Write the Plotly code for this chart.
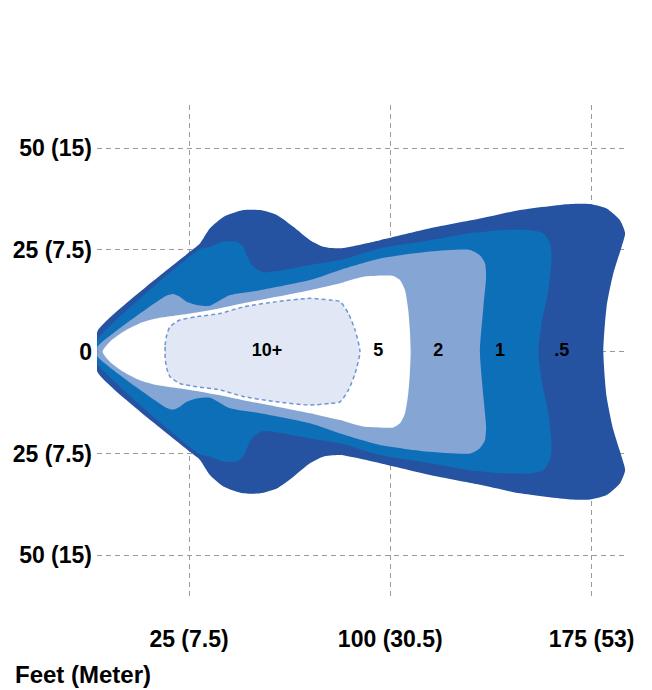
import plotly.graph_objects as go

# ---- data (feet) : upper half outlines of each lux zone, mirrored about y=0 ----
zone_names = [".5", "1", "2", "5", "10+"]

x_05 = [-9.1, -9.1, 25.4, 29.1, 32.8, 37.8, 45.2, 51.5, 57.7, 63.9, 70.1, 75.0, 81.3, 96.2,
        114.8, 133.4, 148.3, 167.0, 174.4, 180.6, 185.6, 187.5, 186.2, 183.1, 180.6, 179.4]
y_05 = [0, 5.0, 24.6, 26.6, 30.3, 33.1, 34.8, 34.8, 33.6, 30.7, 27.4, 25.8, 25.4, 27.4,
        30.3, 32.7, 34.8, 36.3, 36.3, 35.2, 32.3, 29.1, 25.8, 19.2, 11.0, 0]

x_1 = [-9.1, -9.1, 29.1, 32.8, 37.8, 42.8, 45.2, 47.1, 49.0, 52.7, 57.7, 70.1, 81.3, 96.2,
       114.8, 129.7, 142.1, 152.1, 157.0, 159.5, 160.1, 158.9, 156.4, 155.2]
y_1 = [0, 2.9, 25.2, 25.8, 27.0, 27.0, 25.8, 22.9, 20.9, 19.5, 19.8, 21.3, 22.5, 25.4,
       27.4, 29.1, 29.9, 29.9, 29.1, 26.6, 23.3, 15.1, 7.0, 0]

x_2 = [-9.1, -9.1, 16.7, 19.2, 21.6, 24.1, 27.9, 32.8, 40.3, 51.5, 70.1, 81.3, 96.2, 114.8,
       129.7, 133.4, 135.3, 135.7, 134.7, 133.4]
y_2 = [0, 1.2, 13.8, 14.2, 13.5, 12.3, 11.5, 11.3, 13.9, 15.1, 17.6, 20.1, 22.9, 24.6,
       25.0, 23.7, 21.7, 18.4, 11.0, 0]

x_5 = [-7.2, -4.4, 0.5, 6.7, 13.0, 25.4, 36.6, 45.2, 57.7, 70.1, 81.3, 89.9, 101.1, 103.6,
       105.5, 106.7, 107.3, 107.6]
y_5 = [0, 2.5, 4.9, 7.0, 8.2, 9.4, 10.7, 11.9, 13.5, 15.1, 16.8, 18.4, 18.6, 17.6,
       15.1, 10.2, 5.3, 0]

x_10 = [16.1, 16.1, 16.7, 17.9, 21.6, 27.9, 36.6, 45.2, 57.7, 70.1, 77.5, 81.3, 84.4, 86.9, 88.7]
y_10 = [0, 1.6, 4.1, 6.1, 7.8, 8.6, 9.4, 11.0, 12.3, 13.1, 12.7, 12.3, 9.4, 5.3, 0]

label_x = [54.1, 95.5, 117.9, 140.9, 163.9]
label_text = ["10+", "5", "2", "1", ".5"]

x_tickvals = [25, 100, 175]
x_ticktext = ["25 (7.5)", "100 (30.5)", "175 (53)"]
y_tickvals = [50, 25, 0, -25, -50]
y_ticktext = ["50 (15)", "25 (7.5)", "0", "25 (7.5)", "50 (15)"]

FONT = "Liberation Sans, Arial, sans-serif"


def mirrored(xs, ys):
    px = list(xs) + list(reversed(xs[1:-1]))
    py = list(ys) + [-v for v in reversed(ys[1:-1])]
    return px + [px[0]], py + [py[0]]


fig = go.Figure()
styles = [
    (x_05, y_05, "#2553A2", None),
    (x_1, y_1, "#0C6FB8", None),
    (x_2, y_2, "#85A5D4", None),
    (x_5, y_5, "#FFFFFF", None),
    (x_10, y_10, "#E1E7F4", "#6F96D2"),
]
for (xs, ys, fillc, linec) in styles:
    X, Y = mirrored(xs, ys)
    fig.add_trace(go.Scatter(
        x=X, y=Y, mode="lines", fill="toself", fillcolor=fillc,
        line=dict(shape="spline", smoothing=0.6,
                  color=linec if linec else fillc,
                  width=1.5 if linec else 0,
                  dash="4px,3px" if linec else "solid"),
        hoverinfo="skip", showlegend=False))

fig.add_trace(go.Scatter(
    x=label_x, y=[0] * len(label_x), mode="text", text=label_text,
    textfont=dict(family=FONT, size=18, color="black", weight="bold"),
    hoverinfo="skip", showlegend=False))

fig.update_layout(
    width=644, height=682,
    margin=dict(l=89, r=25, t=97, b=92, autoexpand=False),
    paper_bgcolor="white", plot_bgcolor="white",
    font=dict(family=FONT, color="black", weight="bold"),
    xaxis=dict(range=[-9.28, 188.2], tickvals=x_tickvals, ticktext=x_ticktext,
               showgrid=True, gridcolor="#9A9A9A", gridwidth=1, griddash="5px,4px",
               zeroline=False, showline=False, ticks="", automargin=False,
               tickfont=dict(family=FONT, size=23, color="black", weight="bold"),
               ticklabelstandoff=25, fixedrange=True),
    yaxis=dict(range=[-60.5, 60.6], tickvals=y_tickvals, ticktext=y_ticktext,
               showgrid=True, gridcolor="#9A9A9A", gridwidth=1, griddash="5px,4px",
               zeroline=False, showline=False, ticks="", automargin=False,
               tickfont=dict(family=FONT, size=23, color="black", weight="bold"),
               ticklabelstandoff=4, fixedrange=True),
    annotations=[dict(text="Feet (Meter)", xref="paper", yref="paper",
                      x=-0.159, y=-0.156, xanchor="left", yanchor="middle",
                      showarrow=False,
                      font=dict(family=FONT, size=24, color="black", weight="bold"))],
)

fig.write_html("out.html")
